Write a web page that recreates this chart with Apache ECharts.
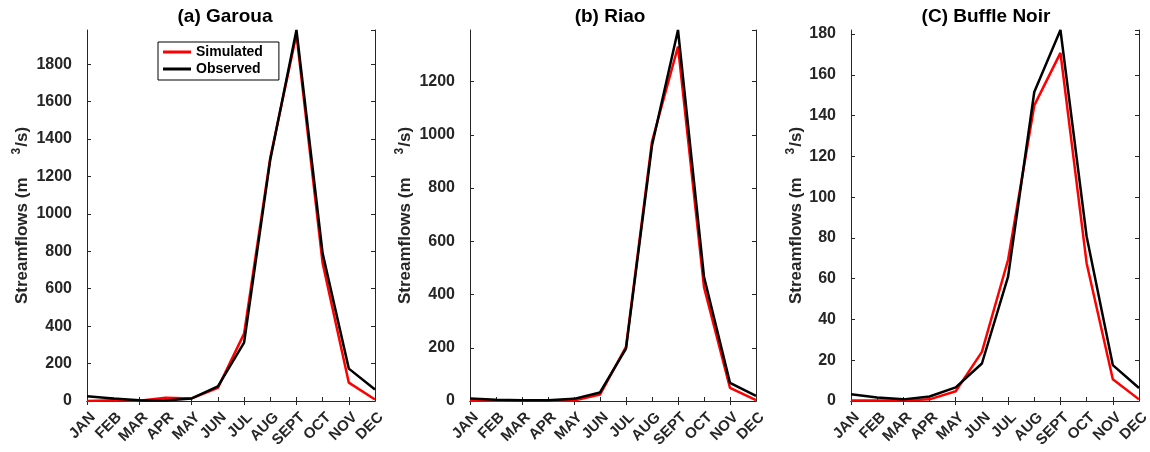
<!DOCTYPE html>
<html>
<head>
<meta charset="utf-8">
<script src="https://cdn.jsdelivr.net/npm/echarts@6/dist/echarts.min.js"></script>
<style>
  html, body { margin: 0; padding: 0; background: #fff; }
  #chart { width: 1150px; height: 452px; }
</style>
</head>
<body>
<div id="chart"></div>
<script>
// Monthly mean streamflows (m3/s) at three gauging stations
const months = ['JAN', 'FEB', 'MAR', 'APR', 'MAY', 'JUN', 'JUL', 'AUG', 'SEPT', 'OCT', 'NOV', 'DEC'];

const garouaSimulated = [0, 4, 2, 18, 14, 70, 360, 1300, 1960, 736, 98, 8];
const garouaObserved  = [25, 13, 4, 3, 14, 78, 312, 1290, 1983, 789, 173, 62];

const riaoSimulated = [1, 1, 1, 1, 2, 24, 203, 975, 1332, 428, 49, 3];
const riaoObserved  = [9, 5, 3, 3, 8, 32, 197, 960, 1394, 467, 68, 19];

const buffleSimulated = [0.3, 0.3, 0.2, 0.8, 4.8, 24.1, 69.3, 145, 170.8, 67.6, 10.7, 0.8];
const buffleObserved  = [3.3, 1.7, 0.8, 2.2, 6.7, 18.4, 61, 151.6, 182, 80.7, 17.6, 6.4];

const panelTitles = ['(a) Garoua', '(b) Riao', '(C) Buffle Noir'];
const yMax = [1983, 1394, 182];
const yInterval = [200, 200, 20];

const panels = [
  { sim: garouaSimulated, obs: garouaObserved },
  { sim: riaoSimulated, obs: riaoObserved },
  { sim: buffleSimulated, obs: buffleObserved }
];

const ink = '#262626';
const font = 'Liberation Sans, Arial, Helvetica, sans-serif';

const grids = [
  { left: 87, top: 30, width: 288, height: 371 },
  { left: 470, top: 30, width: 286, height: 371 },
  { left: 851, top: 30, width: 288, height: 371 }
];
const nameGaps = [54, 54, 44];
const titleCenters = [220, 605, 981];

const option = {
  backgroundColor: '#fff',
  animation: false,
  textStyle: { fontFamily: font },
  title: panelTitles.map((t, i) => ({
    text: t,
    left: titleCenters[i],
    top: 2,
    textAlign: 'center',
    textStyle: { fontFamily: font, fontSize: 19, fontWeight: 'bold', color: '#000' }
  })),
  legend: {
    data: [
      { name: 'Simulated', icon: 'rect', itemStyle: { color: '#ff0000' } },
      { name: 'Observed', icon: 'rect', itemStyle: { color: '#000000' } }
    ],
    orient: 'vertical',
    left: 158,
    top: 42,
    padding: [2, 16, 3, 5],
    itemGap: 1,
    itemWidth: 28,
    itemHeight: 3,
    borderColor: '#000',
    borderWidth: 1,
    backgroundColor: '#fff',
    textStyle: { fontFamily: font, fontSize: 14, fontWeight: 'bold', color: '#000', lineHeight: 16 }
  },
  grid: grids.map(g => Object.assign({ outerBoundsMode: 'none' }, g)),
  xAxis: [],
  yAxis: [],
  series: []
};

panels.forEach((p, i) => {
  // bottom category axis with labels
  option.xAxis.push({
    type: 'category',
    gridIndex: i,
    data: months,
    boundaryGap: false,
    axisLine: { show: true, lineStyle: { color: ink, width: 1 } },
    axisTick: { show: true, inside: true, length: 4, lineStyle: { color: ink } },
    axisLabel: {
      rotate: 45, margin: 8, interval: 0,
      align: 'right',
      verticalAlign: 'top',
      lineHeight: 17,
      fontFamily: font, fontSize: 15, fontWeight: 'bold', color: ink
    },
    splitLine: { show: false }
  });
  // top box edge with ticks
  option.xAxis.push({
    type: 'category',
    gridIndex: i,
    position: 'top',
    data: months,
    boundaryGap: false,
    axisLine: { show: true, lineStyle: { color: ink, width: 1 } },
    axisTick: { show: true, inside: true, length: 4, lineStyle: { color: ink } },
    axisLabel: { show: false },
    splitLine: { show: false }
  });
  const nameRich = {
    a: { fontFamily: font, fontSize: 17, fontWeight: 'bold', color: ink, lineHeight: 22 },
    s: { fontFamily: font, fontSize: 12, fontWeight: 'bold', color: ink, verticalAlign: 'top', lineHeight: 22, padding: [0, 1, 0, 23] }
  };
  option.yAxis.push({
    type: 'value',
    gridIndex: i,
    min: 0,
    max: yMax[i],
    interval: yInterval[i],
    name: '{a|Streamflows (m}{s|3}{a|/s)}',
    nameLocation: 'middle',
    nameRotate: 90,
    nameGap: nameGaps[i],
    nameTextStyle: { rich: nameRich },
    axisLine: { show: true, lineStyle: { color: ink, width: 1 } },
    axisTick: { show: true, inside: true, length: 4, lineStyle: { color: ink } },
    axisLabel: {
      margin: 15,
      showMaxLabel: false,
      formatter: v => String(v),
      fontFamily: font, fontSize: 16, fontWeight: 'bold', color: ink
    },
    splitLine: { show: false }
  });
  // right box edge with ticks
  option.yAxis.push({
    type: 'value',
    gridIndex: i,
    position: 'right',
    min: 0,
    max: yMax[i],
    interval: yInterval[i],
    axisLine: { show: true, lineStyle: { color: ink, width: 1 } },
    axisTick: { show: true, inside: true, length: 4, lineStyle: { color: ink } },
    axisLabel: { show: false },
    splitLine: { show: false }
  });
  option.series.push({
    name: 'Simulated',
    type: 'line',
    xAxisIndex: i * 2,
    yAxisIndex: i * 2,
    data: p.sim,
    showSymbol: false,
    symbol: 'none',
    lineStyle: { color: '#ff0000', width: 2.5 },
    itemStyle: { color: '#ff0000' }
  });
  option.series.push({
    name: 'Observed',
    type: 'line',
    xAxisIndex: i * 2,
    yAxisIndex: i * 2,
    data: p.obs,
    showSymbol: false,
    symbol: 'none',
    lineStyle: { color: '#000000', width: 2.5 },
    itemStyle: { color: '#000000' }
  });
});

const chart = echarts.init(document.getElementById('chart'), null, { renderer: 'canvas' });
chart.setOption(option);
</script>
</body>
</html>
